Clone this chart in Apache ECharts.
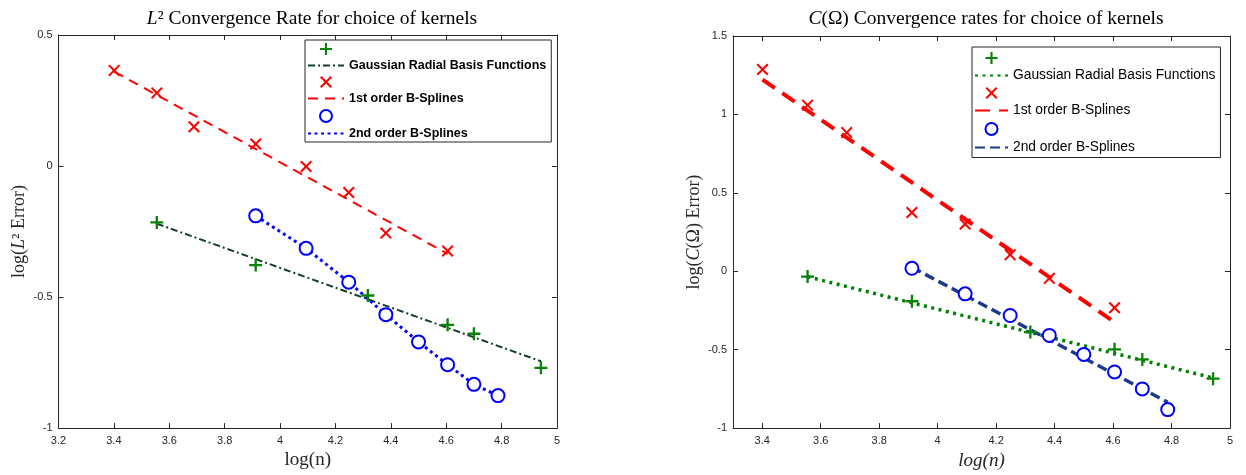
<!DOCTYPE html>
<html><head><meta charset="utf-8">
<script src="https://cdn.jsdelivr.net/npm/echarts@6/dist/echarts.min.js"></script>
<style>html,body{margin:0;padding:0;background:#fff}#c{width:1246px;height:475px}</style>
</head><body><div id="c"></div>
<script>
// ---- data (log(n) vs log(error)) ----
const leftXTicks = [3.2, 3.4, 3.6, 3.8, 4, 4.2, 4.4, 4.6, 4.8, 5];
const rightXTicks = [3.4, 3.6, 3.8, 4, 4.2, 4.4, 4.6, 4.8, 5];
const legendLabels = ['Gaussian Radial Basis Functions', '1st order B-Splines', '2nd order B-Splines'];

const gaussX = [3.555, 3.912, 4.317, 4.605, 4.700, 4.942];
const bsplineX = [3.401, 3.555, 3.689, 3.912, 4.094, 4.248, 4.382, 4.605];
const bspline2X = [3.912, 4.094, 4.248, 4.382, 4.500, 4.605, 4.700, 4.787];

// left: L2 error
const leftGaussY = [-0.215, -0.378, -0.494, -0.606, -0.640, -0.770];
const leftGaussFitX = [3.555, 4.942];
const leftGaussFitY = [-0.22, -0.745];
const leftB1Y = [0.365, 0.279, 0.150, 0.084, -0.002, -0.101, -0.256, -0.324];
const leftB1FitX = [3.401, 4.605];
const leftB1FitY = [0.36, -0.335];
const leftB2Y = [-0.190, -0.314, -0.443, -0.567, -0.671, -0.758, -0.833, -0.876];

// right: C(Omega) error
const rightGaussY = [-0.034, -0.191, -0.388, -0.498, -0.562, -0.685];
const rightGaussFitX = [3.555, 4.942];
const rightGaussFitY = [-0.035, -0.68];
const rightB1Y = [1.286, 1.059, 0.884, 0.375, 0.301, 0.106, -0.045, -0.233];
const rightB1FitX = [3.401, 4.605];
const rightB1FitY = [1.222, -0.324];
const rightB2Y = [0.019, -0.144, -0.282, -0.409, -0.530, -0.642, -0.750, -0.882];
const rightB2FitX = [3.912, 4.787];
const rightB2FitY = [0.025, -0.835];

const zip = (xs, ys) => xs.map((x, i) => [x, ys[i]]);

const PLUS = 'path://M4.1,0H5.9V4.1H10V5.9H5.9V10H4.1V5.9H0V4.1H4.1Z';
const CROSS = 'path://M0,1.2L1.2,0L5,3.8L8.8,0L10,1.2L6.2,5L10,8.8L8.8,10L5,6.2L1.2,10L0,8.8L3.8,5Z';
const AX = '#262626';
const SANS = 'Liberation Sans';
const SERIF = 'Liberation Serif';
const fmt = v => String(Math.round(v * 10) / 10);

function xAx(grid, pos, min, max, ticks, show, name, italic) {
  return {
    type: 'value', gridIndex: grid, position: pos, min: min, max: max,
    axisLine: { show: true, onZero: false, lineStyle: { color: AX, width: 1 } },
    axisTick: { show: true, inside: true, length: 5, customValues: ticks, lineStyle: { color: AX } },
    axisLabel: { show: show, customValues: ticks, formatter: fmt, color: AX, fontSize: 11, fontFamily: SANS, margin: 7 },
    splitLine: { show: false },
    name: show ? name : '', nameLocation: 'middle', nameGap: 21,
    nameTextStyle: { fontFamily: SERIF, fontSize: 19, color: AX, fontStyle: italic ? 'italic' : 'normal' }
  };
}
function yAx(grid, pos, min, max, show, name) {
  return {
    type: 'value', gridIndex: grid, position: pos, min: min, max: max, interval: 0.5,
    axisLine: { show: true, onZero: false, lineStyle: { color: AX, width: 1 } },
    axisTick: { show: true, inside: true, length: 5, lineStyle: { color: AX } },
    axisLabel: { show: show, formatter: fmt, color: AX, fontSize: 11, fontFamily: SANS, margin: 6 },
    splitLine: { show: false },
    name: show ? name : '', nameLocation: 'middle', nameGap: 30, nameRotate: 90,
    nameTextStyle: { fontFamily: SERIF, fontSize: 18, color: AX, rich: { i: { fontFamily: SERIF, fontSize: 18, fontStyle: 'italic', color: AX } } }
  };
}

const chart = echarts.init(document.getElementById('c'), null, { renderer: 'canvas' });
const GREEN = '#0a820a', RED = '#ff0000', BLUE = '#0000ff';
const mk = (name, xi, yi, data, sym, color, size) => ({
  name: name, type: 'scatter', xAxisIndex: xi, yAxisIndex: yi, data: data, symbol: sym, symbolSize: size || 12,
  itemStyle: sym === 'emptyCircle' ? { color: color, borderColor: color, borderWidth: 2, opacity: 1 } : { color: color, opacity: 1 },
  emphasis: { disabled: true }, z: 5
});
const ln = (name, xi, yi, data, color, width, dash) => ({
  name: name, type: 'line', xAxisIndex: xi, yAxisIndex: yi, data: data, symbol: 'circle', showSymbol: false,
  lineStyle: { color: color, width: width, type: dash }, itemStyle: { color: color, opacity: 0 },
  emphasis: { disabled: true }, z: 3, animation: false
});
const legendFmt = n => n.endsWith('Data') ? '' : legendLabels[+n.slice(-1)];
const legItems = (p) => [
  { name: p + 'gData' }, { name: p + 'fit0', itemStyle: { opacity: 0 } },
  { name: p + 'rData' }, { name: p + 'fit1', itemStyle: { opacity: 0 } },
  { name: p + 'bData' }, { name: p + 'fit2', itemStyle: { opacity: 0 } }
];

chart.setOption({
  animation: false,
  title: [
    { text: '{i|L}² Convergence Rate for choice of kernels', left: 307, top: 4, textAlign: 'center',
      textStyle: { fontFamily: SERIF, fontSize: 19.5, fontWeight: 'normal', color: '#000', rich: { i: { fontFamily: SERIF, fontSize: 19.5, fontStyle: 'italic' } } } },
    { text: '{i|C}(Ω) Convergence rates for choice of kernels', left: 981, top: 4, textAlign: 'center',
      textStyle: { fontFamily: SERIF, fontSize: 19.5, fontWeight: 'normal', color: '#000', rich: { i: { fontFamily: SERIF, fontSize: 19.5, fontStyle: 'italic' } } } }
  ],
  grid: [
    { left: 58.5, right: 1246 - 557, top: 35, bottom: 45, containLabel: false },
    { left: 733, right: 16, top: 36, bottom: 45, containLabel: false }
  ],
  xAxis: [
    xAx(0, 'bottom', 3.2, 5, leftXTicks, true, 'log(n)', false),
    xAx(0, 'top', 3.2, 5, leftXTicks, false, '', false),
    xAx(1, 'bottom', 3.3, 5, rightXTicks, true, 'log(n)', true),
    xAx(1, 'top', 3.3, 5, rightXTicks, false, '', true)
  ],
  yAxis: [
    yAx(0, 'left', -1, 0.5, true, 'log({i|L}² Error)'),
    yAx(0, 'right', -1, 0.5, false, ''),
    yAx(1, 'left', -1, 1.5, true, 'log({i|C}(Ω) Error)'),
    yAx(1, 'right', -1, 1.5, false, '')
  ],
  legend: [
    { data: legItems('L'), formatter: legendFmt,
      orient: 'vertical', left: 305, top: 40, itemWidth: 36, itemHeight: 12, itemGap: 4,
      backgroundColor: '#fff', borderColor: AX, borderWidth: 1, borderRadius: 0, padding: [3, 5, 2, 2],
      selectedMode: false, textStyle: { fontFamily: SANS, fontWeight: 'bold', fontSize: 12.5, color: '#000' } },
    { data: legItems('R'), formatter: legendFmt,
      orient: 'vertical', left: 972, top: 47, itemWidth: 33, itemHeight: 12, itemGap: 4.5,
      backgroundColor: '#fff', borderColor: AX, borderWidth: 1, borderRadius: 0, padding: [5, 5, 3, 2],
      selectedMode: false, textStyle: { fontFamily: SANS, fontSize: 13.8, color: '#000' } }
  ],
  series: [
    ln('Lfit0', 0, 0, zip(leftGaussFitX, leftGaussFitY), '#17402a', 2, [7, 3, 2, 3]),
    ln('Lfit1', 0, 0, zip(leftB1FitX, leftB1FitY), RED, 2, [10, 7]),
    ln('Lfit2', 0, 0, zip(bspline2X, leftB2Y), BLUE, 3, [3, 3.5]),
    mk('LgData', 0, 0, zip(gaussX, leftGaussY), PLUS, GREEN, 13),
    mk('LrData', 0, 0, zip(bsplineX, leftB1Y), CROSS, RED),
    mk('LbData', 0, 0, zip(bspline2X, leftB2Y), 'emptyCircle', BLUE, 13),

    ln('Rfit0', 2, 2, zip(rightGaussFitX, rightGaussFitY), '#008000', 3.5, [3, 4.5]),
    ln('Rfit1', 2, 2, zip(rightB1FitX, rightB1FitY), RED, 4, [15, 9]),
    ln('Rfit2', 2, 2, zip(rightB2FitX, rightB2FitY), '#1d3a8a', 3.5, [10, 5]),
    mk('RgData', 2, 2, zip(gaussX, rightGaussY), PLUS, GREEN, 13),
    mk('RrData', 2, 2, zip(bsplineX, rightB1Y), CROSS, RED),
    mk('RbData', 2, 2, zip(bspline2X, rightB2Y), 'emptyCircle', BLUE, 13)
  ]
});
</script>
</body></html>
